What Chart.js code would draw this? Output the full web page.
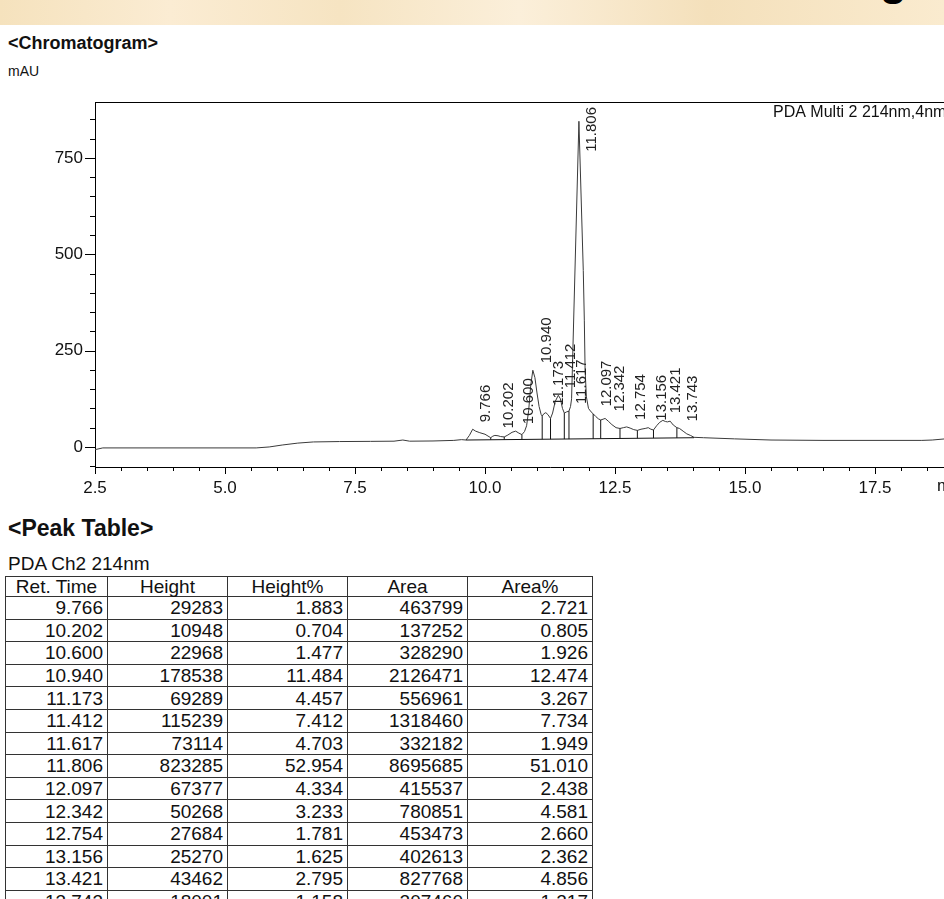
<!DOCTYPE html>
<html>
<head>
<meta charset="utf-8">
<title>Chromatogram</title>
<script src="https://cdn.jsdelivr.net/npm/chart.js@4.4.1/dist/chart.umd.min.js"></script>
<style>
    html, body { margin: 0; padding: 0; background: #fff; overflow: hidden; }
    body { width: 944px; height: 899px; position: relative; font-family: "Liberation Sans", Arial, sans-serif; color: #111; }
    #banner {
        position: absolute; left: 0; top: 0; width: 944px; height: 25px; overflow: hidden;
        background: linear-gradient(90deg, #f5e2bd 0%, #fbecd3 18%, #f6e4c2 36%, #fbefda 55%, #f4e0bb 75%, #faebcf 100%);
    }
    #banner span { position: absolute; left: 880px; top: -42px; font: bold 44px/44px "Liberation Sans", Arial, sans-serif; color: #000; }
    .heading { position: absolute; left: 8px; font-weight: bold; white-space: nowrap; }
    .small { position: absolute; left: 8px; white-space: nowrap; }
    #chartBox { position: absolute; left: 0; top: 92px; width: 1010px; height: 410px; }
    #peakTable {
        position: absolute; left: 5px; top: 576px;
        border-collapse: collapse; font-size: 19px; color: #111;
    }
    #peakTable th, #peakTable td {
        border: 1px solid #333; padding: 0 4px; line-height: 19px; font-weight: normal;
    }
    #peakTable th { text-align: center; height: 19px; }
    #peakTable td { text-align: right; height: 21.6px; }
</style>
</head>
<body>
<div id="banner"><span>g</span></div>
<div class="heading" style="top:33px;font-size:18px;">&lt;Chromatogram&gt;</div>
<div class="small" style="top:63px;font-size:14px;">mAU</div>
<div id="chartBox"><canvas id="chromChart" width="1010" height="410"></canvas></div>
<div class="heading" style="top:515px;font-size:23px;">&lt;Peak Table&gt;</div>
<div class="small" style="top:553px;font-size:19px;">PDA Ch2 214nm</div>
<table id="peakTable">
    <colgroup>
        <col style="width:102px"><col style="width:120px"><col style="width:120px"><col style="width:120px"><col style="width:125px">
    </colgroup>
    <thead><tr><th>Ret. Time</th><th>Height</th><th>Height%</th><th>Area</th><th>Area%</th></tr></thead>
    <tbody id="peakRows"></tbody>
</table>

<script>
// chromatogram trace (time in min, signal in mAU)
const traceTimes = [2.50, 2.65, 4.00, 5.60, 5.85, 6.10, 6.40, 6.70, 7.20, 7.80, 8.25, 8.42, 8.55, 9.00, 9.40, 9.55,
    9.635, 9.70, 9.763, 9.82, 9.90, 10.00, 10.11, 10.15, 10.19, 10.25, 10.30, 10.37, 10.44, 10.52, 10.59, 10.65, 10.71,
    10.76, 10.80, 10.84, 10.88, 10.92, 10.96, 11.00, 11.04, 11.08, 11.10, 11.13, 11.17, 11.21, 11.26, 11.30, 11.35,
    11.41, 11.45, 11.49, 11.525, 11.57, 11.615, 11.645, 11.665, 11.806, 11.89, 11.91, 11.925, 11.95, 11.99, 12.04,
    12.08, 12.13, 12.18, 12.225, 12.27, 12.31, 12.37, 12.44, 12.52, 12.596, 12.66, 12.725, 12.79, 12.86, 12.93, 13.00,
    13.08, 13.14, 13.19, 13.24, 13.30, 13.36, 13.42, 13.47, 13.51, 13.56, 13.62, 13.69, 13.74, 13.81, 13.88, 13.95,
    14.02, 14.20, 14.80, 15.50, 16.50, 17.50, 18.40, 18.60, 18.85, 19.20, 19.60, 20.00];
const traceValues = [-7, -2.5, -2.5, -2.5, 0, 5, 10, 13, 14, 14.5, 15, 18, 15, 15.5, 17, 19,
    18, 30, 46, 41, 37, 33, 24, 28, 30, 29, 27, 26, 31, 38, 41, 36, 32,
    40, 55, 95, 160, 199, 180, 140, 105, 84, 80, 86, 89, 84, 74, 88, 118,
    134, 125, 100, 88, 91, 93, 105, 125, 845, 458, 329, 200, 130, 100, 91,
    86, 79, 73, 70, 72, 74, 67, 58, 50, 48, 50, 52, 49, 45, 43, 46,
    48, 50, 46, 44, 55, 64, 69, 66, 65, 67, 57, 50, 48, 41, 34, 30,
    25, 24, 21, 18, 17, 17, 17, 18, 21, 25, 27, 28];

// integration baseline and peak drop lines
const baseTimes = [9.635, 14.02];
const baseValues = [18, 24];
const dropTimes = [10.11, 10.37, 10.71, 11.10, 11.26, 11.525, 11.615, 12.08, 12.225, 12.596, 12.93, 13.24, 13.69];
const dropBottoms = [19, 19, 19.5, 20, 20, 20.5, 20.5, 21, 21.5, 22, 22.5, 23, 23.5];
const dropTops = [24, 26, 32, 80, 74, 88, 93, 86, 70, 48, 43, 44, 50];

// peak table
const retTimes = [9.766, 10.202, 10.600, 10.940, 11.173, 11.412, 11.617, 11.806, 12.097, 12.342, 12.754, 13.156, 13.421, 13.743];
const peakHeights = [29283, 10948, 22968, 178538, 69289, 115239, 73114, 823285, 67377, 50268, 27684, 25270, 43462, 18001];
const heightPct = [1.883, 0.704, 1.477, 11.484, 4.457, 7.412, 4.703, 52.954, 4.334, 3.233, 1.781, 1.625, 2.795, 1.158];
const peakAreas = [463799, 137252, 328290, 2126471, 556961, 1318460, 332182, 8695685, 415537, 780851, 453473, 402613, 827768, 207460];
const areaPct = [2.721, 0.805, 1.926, 12.474, 3.267, 7.734, 1.949, 51.010, 2.438, 4.581, 2.660, 2.362, 4.856, 1.217];
// signal at each peak top, used to place the rotated labels
const peakApex = [46, 30, 41, 199, 89, 134, 93, 845, 87, 74, 52, 50, 69, 48];

const FONT = '"Liberation Sans", Arial, sans-serif';

window.onload = function () {
    buildTable();
    createChart();
};

function buildTable() {
    const body = document.getElementById('peakRows');
    retTimes.forEach((t, i) => {
        const tr = document.createElement('tr');
        [t.toFixed(3), peakHeights[i], heightPct[i].toFixed(3), peakAreas[i], areaPct[i].toFixed(3)].forEach(v => {
            const td = document.createElement('td');
            td.textContent = v;
            tr.appendChild(td);
        });
        body.appendChild(tr);
    });
}

function isMajorX(v) {
    return Math.abs(v / 2.5 - Math.round(v / 2.5)) < 1e-6;
}

// tick marks, top frame, peak labels and captions
const chromDecor = {
    id: 'chromDecor',
    afterDraw(chart) {
        const { ctx, chartArea, scales: { x, y } } = chart;
        ctx.save();
        ctx.strokeStyle = '#000';
        ctx.lineWidth = 1;
        ctx.beginPath();
        ctx.moveTo(chartArea.left, chartArea.top + 0.5);
        ctx.lineTo(chartArea.right, chartArea.top + 0.5);
        y.ticks.forEach(t => {
            const py = Math.round(y.getPixelForValue(t.value)) + 0.5;
            const len = t.value % 250 === 0 ? 10 : 5;
            ctx.moveTo(chartArea.left - len, py);
            ctx.lineTo(chartArea.left, py);
        });
        x.ticks.forEach(t => {
            const px = Math.round(x.getPixelForValue(t.value)) + 0.5;
            ctx.moveTo(px, chartArea.bottom);
            ctx.lineTo(px, chartArea.bottom + (isMajorX(t.value) ? 7 : 4));
        });
        ctx.stroke();

        // rotated retention time labels
        ctx.fillStyle = '#222';
        ctx.font = '15px ' + FONT;
        ctx.textAlign = 'left';
        ctx.textBaseline = 'alphabetic';
        retTimes.forEach((t, i) => {
            const label = t.toFixed(3);
            const w = ctx.measureText(label).width;
            const px = x.getPixelForValue(t) + 17;
            let py = y.getPixelForValue(peakApex[i]) - 7;
            py = Math.max(py, chartArea.top + 5 + w);
            ctx.save();
            ctx.translate(px, py);
            ctx.rotate(-Math.PI / 2);
            ctx.fillText(label, 0, 0);
            ctx.restore();
        });

        ctx.font = '16px ' + FONT;
        ctx.fillStyle = '#111';
        ctx.fillText('PDA Multi 2 214nm,4nm', 773, chartArea.top + 15);
        ctx.font = '17px ' + FONT;
        ctx.fillText('min', 937, chartArea.bottom + 24);
        ctx.restore();
    }
};

function createChart() {
    const ctx = document.getElementById('chromChart').getContext('2d');

    const trace = traceTimes.map((t, i) => ({ x: t, y: traceValues[i] }));
    const base = baseTimes.map((t, i) => ({ x: t, y: baseValues[i] }));
    const drops = [];
    dropTimes.forEach((t, i) => {
        drops.push({ x: t, y: dropBottoms[i] });
        drops.push({ x: t, y: dropTops[i] });
        drops.push({ x: t, y: null });
    });

    new Chart(ctx, {
        type: 'line',
        data: {
            datasets: [
                { data: drops, borderColor: '#111', borderWidth: 1, pointRadius: 0, spanGaps: false },
                { data: base, borderColor: '#111', borderWidth: 1, pointRadius: 0 },
                { data: trace, borderColor: '#3a3a3a', borderWidth: 1, pointRadius: 0, tension: 0 }
            ]
        },
        options: {
            responsive: false,
            animation: false,
            devicePixelRatio: 1,
            layout: { padding: { top: 10, right: 5, left: 0, bottom: 0 } },
            plugins: { legend: { display: false }, tooltip: { enabled: false } },
            font: { family: FONT },
            scales: {
                x: {
                    type: 'linear',
                    min: 2.5,
                    max: 20,
                    grid: { display: false, drawTicks: false },
                    border: { display: true, color: '#000', width: 1 },
                    afterFit: (s) => { s.height = 35; s.paddingLeft = 0; s.paddingRight = 0; },
                    ticks: {
                        stepSize: 0.5,
                        autoSkip: false,
                        maxRotation: 0,
                        padding: 11,
                        color: '#111',
                        font: { family: FONT, size: 17 },
                        callback: (v) => isMajorX(v) ? v.toFixed(1) : ''
                    }
                },
                y: {
                    min: -52,
                    max: 895,
                    grid: { display: false, drawTicks: false },
                    border: { display: true, color: '#000', width: 1 },
                    afterFit: (s) => { s.width = 95; s.paddingTop = 0; s.paddingBottom = 0; },
                    ticks: {
                        stepSize: 50,
                        includeBounds: false,
                        autoSkip: false,
                        padding: 12,
                        color: '#111',
                        font: { family: FONT, size: 17 },
                        callback: (v) => v % 250 === 0 ? String(v) : ''
                    }
                }
            }
        },
        plugins: [chromDecor]
    });
}
</script>
</body>
</html>
